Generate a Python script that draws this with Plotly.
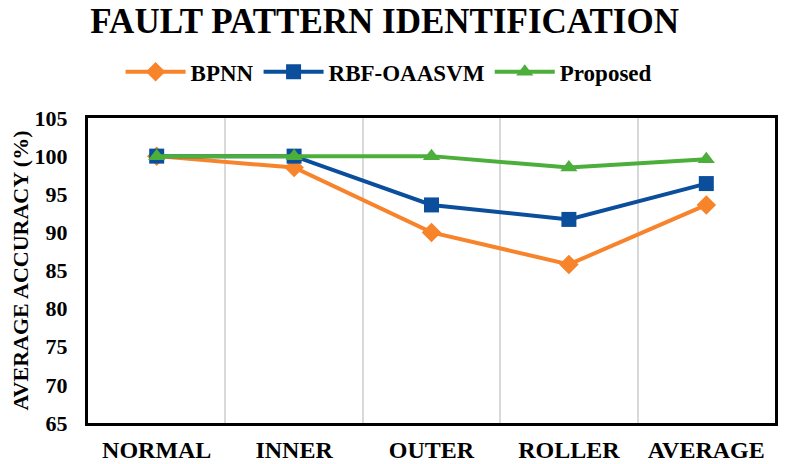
import plotly.graph_objects as go

categories = ["NORMAL", "INNER", "OUTER", "ROLLER", "AVERAGE"]
bpnn = [100, 98.5, 90.0, 85.8, 93.6]
rbf_oaasvm = [100, 100, 93.6, 91.7, 96.4]
proposed = [100, 100, 100, 98.5, 99.6]
y_ticks = [65, 70, 75, 80, 85, 90, 95, 100, 105]

FONT = "Liberation Serif, Times New Roman, serif"

fig = go.Figure()
series = [
    ("BPNN", bpnn, "#F7832B", "diamond"),
    ("RBF-OAASVM", rbf_oaasvm, "#0B4F9C", "square"),
    ("Proposed", proposed, "#4CAE3B", "triangle-up"),
]
for name, values, color, symbol in series:
    fig.add_trace(
        go.Scatter(
            x=categories,
            y=values,
            name=name,
            mode="lines+markers",
            line=dict(color=color, width=4),
            marker=dict(symbol=symbol, size=15, color=color),
        )
    )

fig.update_layout(
    width=785,
    height=464,
    paper_bgcolor="white",
    plot_bgcolor="white",
    margin=dict(l=88, r=10, t=118, b=41, autoexpand=False),
    font=dict(family=FONT, color="black"),
    title=dict(
        text="<b>FAULT PATTERN IDENTIFICATION</b>",
        font=dict(size=35, family=FONT, color="black"),
        x=0.49,
        xref="container",
        xanchor="center",
        y=0.955,
        yref="container",
        yanchor="middle",
    ),
    legend=dict(
        orientation="h",
        xref="container",
        x=0.495,
        xanchor="center",
        yref="container",
        y=0.845,
        yanchor="middle",
        font=dict(size=23, family=FONT, color="black", weight="bold"),
        itemwidth=60,
    ),
)
fig.update_xaxes(
    type="category",
    range=[-0.5, 4.5],
    tickson="boundaries",
    showgrid=True,
    gridcolor="#D9D9D9",
    gridwidth=1.5,
    showline=True,
    linecolor="black",
    linewidth=3,
    mirror=True,
    ticks="",
    automargin=False,
    ticklabelstandoff=3,
    tickfont=dict(size=24, family=FONT, color="black", weight="bold"),
)
fig.update_yaxes(
    range=[65, 105],
    tickvals=y_ticks,
    showgrid=False,
    zeroline=False,
    showline=True,
    linecolor="black",
    linewidth=3,
    mirror=True,
    ticks="",
    automargin=False,
    ticklabelstandoff=13,
    tickfont=dict(size=22, family=FONT, color="black", weight="bold"),
    title=dict(
        text="<b>AVERAGE ACCURACY (%)</b>",
        font=dict(size=22, family=FONT, color="black"),
        standoff=0,
    ),
)

# the page body has a default 8px margin; drop it so the figure fills the window
fig.write_html(
    "out.html",
    config={"displayModeBar": False},
    post_script="document.body.style.margin = '0';",
)
